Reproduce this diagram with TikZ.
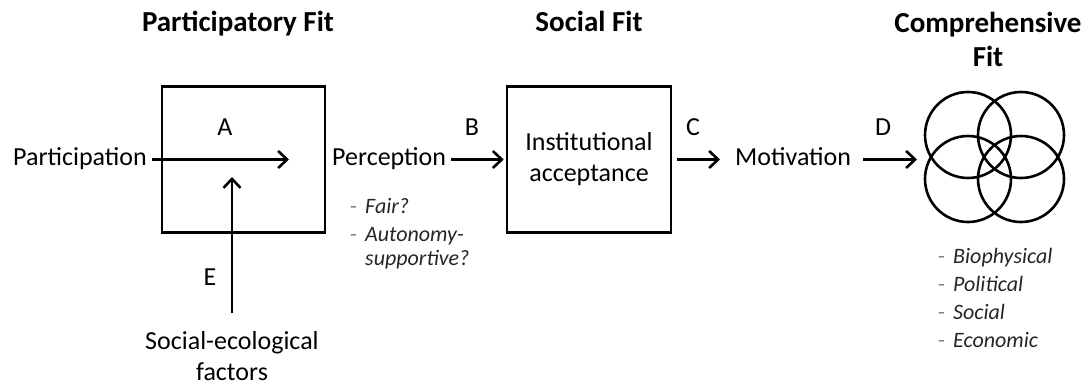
\documentclass[tikz,border=0pt]{standalone}
\usepackage{fontspec}
\setmainfont{Carlito}
\usetikzlibrary{arrows.meta,positioning}
\definecolor{dashgray}{HTML}{7F7F7F}
\definecolor{listtext}{HTML}{262626}
\newcommand{\fitpoint}[1]{\makebox[15pt][l]{\textcolor{dashgray}{-}}\textit{#1}}

\begin{document}
\begin{tikzpicture}[
  x=1pt, y=-1pt,
  frame/.style={draw, line width=2.6pt, inner sep=0pt, minimum width=163pt, minimum height=146pt},
  ring/.style={draw, circle, line width=2.6pt, inner sep=0pt, minimum size=86pt},
  txt/.style={font=\fontsize{26}{31}\selectfont, inner sep=0pt},
  word/.style={txt, anchor=base west, text height=17pt, text depth=6pt},
  ttl/.style={font=\bfseries\fontsize{29}{34}\selectfont, inner sep=0pt, align=center},
  lst/.style={font=\fontsize{22}{28}\selectfont, text=listtext, inner sep=0pt, align=left, anchor=north west},
  arr/.style={-{Straight Barb[length=9pt,width=17pt]}, line width=2.6pt}
]
  \useasboundingbox (0,0) rectangle (1090,385);

  % titles
  \node[ttl, anchor=base] (tpart) at (238,32) {Participatory Fit};
  \node[ttl, anchor=base] (tsoc) at (589,32) {Social Fit};
  \node[ttl, anchor=north] (tcomp) at (988,12) {Comprehensive\\Fit};

  % boxes and venn
  \node[frame] (box1) at (243.5,159.5) {};
  \node[frame, minimum width=164pt, font=\fontsize{26}{31}\selectfont, align=center] (box2) at (589,159.5) {Institutional\\acceptance};
  \node[ring] (v1) at (968,135) {};
  \node[ring] (v2) at (1021,135) {};
  \node[ring] (v3) at (968,179) {};
  \node[ring] (v4) at (1021,179) {};

  % words along the chain
  \node[word] (particip) at (13,165) {Participation};
  \node[word] (percep) at (332,165) {Perception};
  \node[word] (motiv) at (735,165) {Motivation};
  \node[txt, anchor=north, align=center] (socfac) at (232,331) {Social-ecological\\factors};
  \coordinate (aEnd) at (289,159.5);
  \coordinate (eEnd) at (232,177);
  \coordinate (dEnd) at (917,159.5);

  % letters
  \node[txt, anchor=base] (lblA) at (225,136) {A};
  \node[txt, anchor=base] (lblB) at (472,136) {B};
  \node[txt, anchor=base] (lblC) at (693,136) {C};
  \node[txt, anchor=base] (lblD) at (883,136) {D};
  \node[txt, anchor=base] (lblE) at (210,285) {E};

  % lists
  \node[lst, font=\fontsize{22}{24}\selectfont] (plist) at (350,198)
    {\fitpoint{Fair?}\\[4pt]\fitpoint{Autonomy-}\\\makebox[15pt]{}\textit{supportive?}};
  \node[lst] (clist) at (938,248)
    {\fitpoint{Biophysical}\\\fitpoint{Political}\\\fitpoint{Social}\\\fitpoint{Economic}};

  \draw[arr, shorten <=5pt] (particip.east) -- (aEnd);
  \draw[arr, shorten <=18pt] (socfac.north) -- (eEnd);
  \draw[arr, shorten <=5pt, shorten >=2pt] (percep.east) -- (box2.west);
  \draw[arr, shorten <=5pt, shorten >=15pt] (box2.east) -- (motiv.west);
  \draw[arr, shorten <=12pt] (motiv.east) -- (dEnd);
\end{tikzpicture}
\end{document}
